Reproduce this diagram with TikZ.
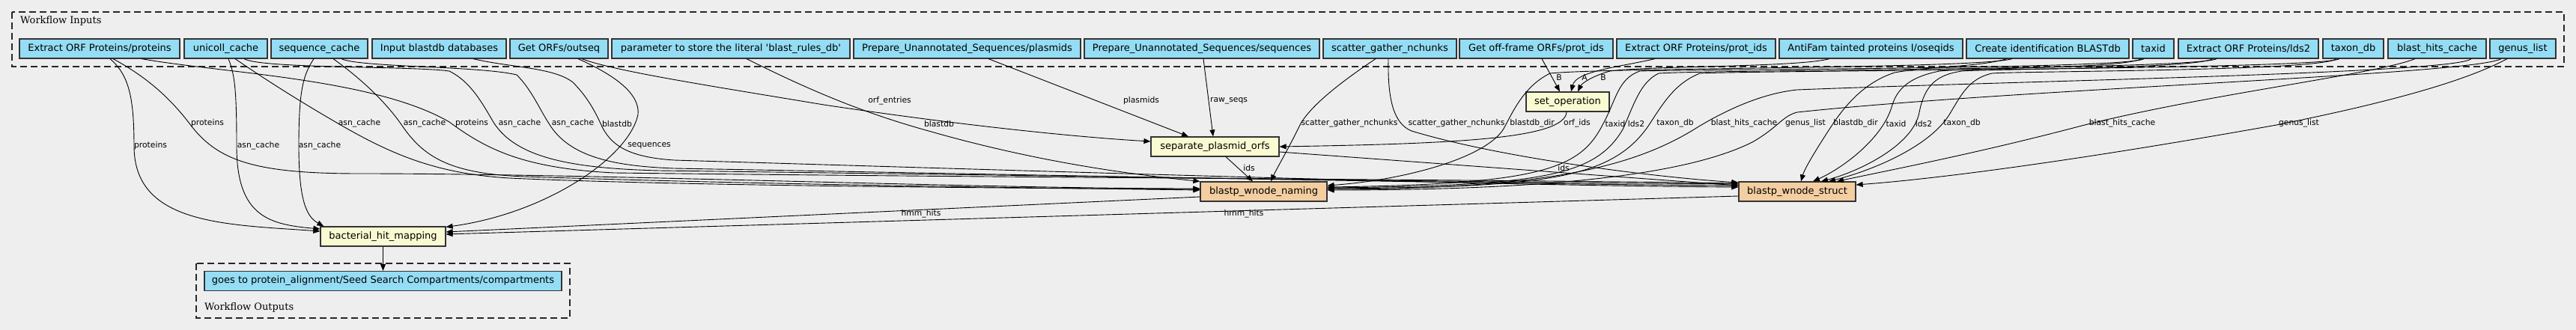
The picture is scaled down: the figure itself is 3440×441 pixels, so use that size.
\documentclass[tikz,border=0pt]{standalone}
\usepackage{fontspec}
\setmainfont{DejaVu Sans}
\newfontfamily\clusterfont{DejaVu Serif}
\usetikzlibrary{arrows.meta,positioning,calc}
\definecolor{pblue}{HTML}{94DDF4}
\definecolor{pstep}{HTML}{FAFAD2}
\definecolor{psub}{HTML}{F3CEA1}
\definecolor{pbg}{HTML}{EEEEEE}

\begin{document}
\begin{tikzpicture}[x=1pt,y=-1pt,
    every node/.style={inner sep=0pt},
    inp/.style={draw=black!80,line width=1.2pt,fill=pblue,minimum height=26pt,
                font=\fontsize{13}{15}\selectfont},
    stepn/.style={inp,fill=pstep},
    subwf/.style={inp,fill=psub},
    clus/.style={draw=black!85,line width=1.2pt,dash pattern=on 9pt off 5pt},
    edge/.style={draw=black,line width=0.9pt,-{Triangle[length=9pt,width=7pt]}},
    lbl/.style={font=\fontsize{10.75}{12}\selectfont}]
  \fill[pbg] (0,0) rectangle (3440,441);
  \useasboundingbox (0,0) rectangle (3440,441);

  % clusters
  \draw[clus] (16,16) rectangle (3424,89);
  \node[anchor=west,font=\clusterfont\fontsize{13}{15}\selectfont] (inlbl) at (27,28) {Workflow Inputs};
  \draw[clus] (262,352) rectangle (761,425);
  \node[anchor=west,font=\clusterfont\fontsize{13}{15}\selectfont] (outlbl) at (273,411) {Workflow Outputs};

  % workflow inputs
  \node[inp,minimum width=214] (eorfprot) at (133,65) {Extract ORF Proteins/proteins};
  \node[inp,minimum width=111] (unicoll) at (301.5,65) {unicoll\_cache};
  \node[inp,minimum width=129] (seqcache) at (426.5,65) {sequence\_cache};
  \node[inp,minimum width=179] (blastdbin) at (586.5,65) {Input blastdb databases};
  \node[inp,minimum width=131] (outseq) at (746.5,65) {Get ORFs/outseq};
  \node[inp,minimum width=318] (param) at (976,65) {parameter to store the literal \textquotesingle blast\_rules\_db\textquotesingle};
  \node[inp,minimum width=303] (plasmids) at (1291.5,65) {Prepare\_Unannotated\_Sequences/plasmids};
  \node[inp,minimum width=314] (sequences) at (1605,65) {Prepare\_Unannotated\_Sequences/sequences};
  \node[inp,minimum width=178] (nchunks) at (1856,65) {scatter\_gather\_nchunks};
  \node[inp,minimum width=205] (offframe) at (2051.5,65) {Get off-frame ORFs/prot\_ids};
  \node[inp,minimum width=212] (protids) at (2265,65) {Extract ORF Proteins/prot\_ids};
  \node[inp,minimum width=245] (antifam) at (2498.5,65) {AntiFam tainted proteins I/oseqids};
  \node[inp,minimum width=217] (createdb) at (2734.5,65) {Create identification BLASTdb};
  \node[inp,minimum width=55] (taxid) at (2875.5,65) {taxid};
  \node[inp,minimum width=187] (lds2) at (3002.5,65) {Extract ORF Proteins/lds2};
  \node[inp,minimum width=81] (taxondb) at (3142.5,65) {taxon\_db};
  \node[inp,minimum width=131] (bhcache) at (3254.5,65) {blast\_hits\_cache};
  \node[inp,minimum width=88] (genus) at (3369,65) {genus\_list};

  % steps
  \node[stepn,minimum width=111] (setop) at (2093.5,136) {set\_operation};
  \node[stepn,minimum width=171] (sep) at (1622.5,196) {separate\_plasmid\_orfs};
  \node[subwf,minimum width=169] (naming) at (1687.5,256) {blastp\_wnode\_naming};
  \node[subwf,minimum width=156] (struct) at (2400,256) {blastp\_wnode\_struct};
  \node[stepn,minimum width=167] (bhm) at (511.5,316) {bacterial\_hit\_mapping};
  \node[inp,minimum width=477] (outp) at (511.5,375.5) {goes to protein\_alignment/Seed Search Compartments/compartments};

  % into bacterial_hit_mapping
  \draw[edge] ([xshift=14pt]eorfprot.south) .. controls (172,100) and (179,130) .. (179,195)
    .. controls (179,300) and (300,300) .. ([yshift=7pt]bhm.west)
    node[lbl] (l1) at (201,195) {proteins};
  \draw[edge] ([xshift=3.5pt]unicoll.south) .. controls (314,100) and (316,125) .. (316,195)
    .. controls (316,290) and (360,300) .. ([yshift=10pt]bhm.west)
    node[lbl] (l2) at (345,195) {asn\_cache};
  \draw[edge] ([xshift=-7.5pt]seqcache.south) .. controls (405,100) and (399,120) .. (399,195)
    .. controls (399,270) and (410,290) .. ([xshift=5pt]bhm.north west)
    node[lbl] (l3) at (427,195) {asn\_cache};
  \draw[edge] ([xshift=25.5pt]outseq.south) .. controls (820,100) and (855,125) .. (852,153)
    .. controls (840,210) and (730,285) .. ([yshift=-1pt]bhm.north east)
    node[lbl] (l4) at (867,195) {sequences};
  \draw[edge] ([yshift=-7pt]naming.west) -- ([yshift=6pt]bhm.east)
    node[lbl] (l5) at (1230,286) {hmm\_hits};
  \draw[edge] ([yshift=-6pt]struct.west) -- ([yshift=3pt]bhm.east)
    node[lbl] (l6) at (1661,286) {hmm\_hits};
  \draw[edge] (bhm.south) -- (outp.north);

  % into blastp_wnode_naming, from the left
  \draw[edge] ([xshift=18pt]eorfprot.south) .. controls (200,105) and (230,135) .. (253,165)
    .. controls (290,215) and (340,232) .. (480,232)
    .. controls (800,232) and (1300,252) .. ([yshift=4pt]naming.west)
    node[lbl] (l7) at (277,165) {proteins};
  \draw[edge] ([xshift=12.5pt]unicoll.south) .. controls (360,110) and (400,135) .. (448,163)
    .. controls (520,205) and (580,232) .. (680,238)
    .. controls (900,248) and (1300,251) .. ([yshift=3pt]naming.west)
    node[lbl] (l8) at (480,165) {asn\_cache};
  \draw[edge] ([xshift=18.5pt]seqcache.south) .. controls (475,100) and (510,130) .. (535,165)
    .. controls (565,210) and (600,232) .. (700,236)
    .. controls (1000,246) and (1300,250) .. ([yshift=2pt]naming.west)
    node[lbl] (l9) at (567,165) {asn\_cache};
  \draw[edge] ([xshift=21pt]param.south) .. controls (1080,120) and (1150,150) .. (1240,175)
    .. controls (1380,215) and (1500,232) .. (naming.north west)
    node[lbl] (l10) at (1254,165) {blastdb};

  % into blastp_wnode_struct, from the left
  \draw[edge] ([xshift=56pt]eorfprot.south) .. controls (300,98) and (500,105) .. (600,163)
    .. controls (650,200) and (700,225) .. (820,231)
    .. controls (1400,238) and (2000,240) .. ([yshift=11pt]struct.west)
    node[lbl] (l11) at (630,165) {proteins};
  \draw[edge] ([xshift=24.5pt]unicoll.south) .. controls (350,92) and (550,88) .. (600,95)
    .. controls (630,110) and (645,140) .. (660,165)
    .. controls (690,210) and (760,225) .. (880,228)
    .. controls (1500,236) and (2000,244) .. ([yshift=10pt]struct.west)
    node[lbl] (l12) at (694,165) {asn\_cache};
  \draw[edge] ([xshift=29.5pt]seqcache.south) .. controls (480,90) and (640,88) .. (690,100)
    .. controls (710,120) and (720,145) .. (733,165)
    .. controls (760,210) and (820,222) .. (900,225)
    .. controls (1500,236) and (2000,246) .. ([yshift=8pt]struct.west)
    node[lbl] (l13) at (765,165) {asn\_cache};
  \draw[edge] ([xshift=45.5pt]blastdbin.south) .. controls (680,90) and (740,90) .. (765,110)
    .. controls (785,130) and (795,150) .. (802,165)
    .. controls (815,195) and (840,210) .. (900,214)
    .. controls (1500,232) and (2000,248) .. ([yshift=6pt]struct.west)
    node[lbl] (l14) at (824,165) {blastdb};
  \draw[edge] ([xshift=-2pt]nchunks.south) .. controls (1853,130) and (1860,165) .. (1885,175)
    .. controls (2000,210) and (2200,236) .. ([yshift=12pt]struct.west)
    node[lbl] (l15) at (1945,165) {scatter\_gather\_nchunks};
  \draw[edge] ([xshift=-19pt]nchunks.south) .. controls (1790,110) and (1752,140) .. (1737,165)
    .. controls (1720,200) and (1705,225) .. ([xshift=9.5pt]naming.north)
    node[lbl] (l16) at (1802,165) {scatter\_gather\_nchunks};

  % separate_plasmid_orfs
  \draw[edge] ([xshift=30.5pt]outseq.south) .. controls (820,95) and (950,115) .. (1100,140)
    .. controls (1300,170) and (1450,184) .. ([yshift=7pt]sep.west)
    node[lbl] (l17) at (1188,135) {orf\_entries};
  \draw[edge] ([xshift=28.5pt]plasmids.south) -- ([xshift=-35.5pt]sep.north)
    node[lbl] (l18) at (1524,135) {plasmids};
  \draw[edge] ([xshift=2pt]sequences.south) -- ([xshift=-2.5pt]sep.north)
    node[lbl] (l19) at (1641,135) {raw\_seqs};
  \draw[edge] ([xshift=-1.5pt]setop.south) .. controls (2090,185) and (1950,192) .. (sep.east)
    node[lbl] (l20) at (2106,165) {orf\_ids};
  \draw[edge] ([xshift=14.5pt]sep.south) -- ([xshift=-14.5pt]naming.north)
    node[lbl] (l21) at (1668,224) {ids};
  \draw[edge] ([yshift=-7pt]sep.east) -- ([yshift=8pt]struct.west)
    node[lbl] (l22) at (2088,224) {ids};

  % set_operation
  \draw[edge] ([xshift=7.5pt]offframe.south) -- ([xshift=-10.5pt]setop.north)
    node[lbl] (l23) at (2082,104) {B};
  \draw[edge] ([xshift=-55pt]protids.south) .. controls (2160,90) and (2105,95) .. ([xshift=4.5pt]setop.north)
    node[lbl] (l24) at (2116,104) {A};
  \draw[edge] ([xshift=-55.5pt]antifam.south) .. controls (2400,90) and (2200,88) .. (2150,95)
    .. controls (2125,102) and (2112,112) .. ([xshift=13.5pt]setop.north)
    node[lbl] (l25) at (2141,104) {B};

  % into blastp_wnode_naming, from the right
  \draw[edge] ([xshift=-47.5pt]createdb.south) .. controls (2640,92) and (2150,90) .. (2070,98)
    .. controls (2035,115) and (2020,150) .. (2008,172)
    .. controls (1985,210) and (1880,240) .. ([yshift=8pt]naming.east)
    node[lbl] (l26) at (2046,165) {blastdb\_dir};
  \draw[edge] ([xshift=-12.5pt]taxid.south) .. controls (2840,92) and (2300,92) .. (2190,95)
    .. controls (2160,105) and (2158,135) .. (2140,167)
    .. controls (2110,225) and (2060,246) .. ([yshift=6pt]naming.east)
    node[lbl] (l27) at (2157,165) {taxid};
  \draw[edge] ([xshift=-42.5pt]lds2.south) .. controls (2930,93) and (2300,93) .. (2215,98)
    .. controls (2190,110) and (2182,140) .. (2167,173)
    .. controls (2130,235) and (2060,248) .. ([yshift=5pt]naming.east)
    node[lbl] (l28) at (2185,165) {lds2};
  \draw[edge] ([xshift=-18.5pt]taxondb.south) .. controls (3100,93) and (2350,94) .. (2270,98)
    .. controls (2235,112) and (2220,140) .. (2200,170)
    .. controls (2150,240) and (2060,250) .. ([yshift=4pt]naming.east)
    node[lbl] (l29) at (2237,165) {taxon\_db};
  \draw[edge] ([xshift=45.5pt]bhcache.south) .. controls (3280,98) and (2700,108) .. (2400,120)
    .. controls (2350,125) and (2300,150) .. (2267,170)
    .. controls (2180,225) and (2060,252) .. ([yshift=3pt]naming.east)
    node[lbl] (l30) at (2329,165) {blast\_hits\_cache};
  \draw[edge] ([xshift=-29pt]genus.south) .. controls (3300,100) and (2700,118) .. (2400,150)
    .. controls (2380,155) and (2375,170) .. (2340,190)
    .. controls (2250,235) and (2060,254) .. ([yshift=2pt]naming.east)
    node[lbl] (l31) at (2411,165) {genus\_list};

  % into blastp_wnode_struct, from the right
  \draw[edge] ([xshift=-54.5pt]createdb.south) .. controls (2640,90) and (2580,88) .. (2530,97)
    .. controls (2490,110) and (2465,140) .. (2448,165)
    .. controls (2425,200) and (2410,225) .. ([xshift=5pt]struct.north)
    node[lbl] (l32) at (2478,165) {blastdb\_dir};
  \draw[edge] ([xshift=-15.5pt]taxid.south) .. controls (2830,92) and (2640,90) .. (2590,95)
    .. controls (2555,102) and (2535,115) .. (2527,140)
    .. controls (2515,185) and (2460,225) .. ([xshift=21pt]struct.north)
    node[lbl] (l33) at (2532,165) {taxid};
  \draw[edge] ([xshift=-47.5pt]lds2.south) .. controls (2930,92) and (2660,92) .. (2620,95)
    .. controls (2585,100) and (2570,115) .. (2563,150)
    .. controls (2555,195) and (2480,230) .. ([xshift=32pt]struct.north)
    node[lbl] (l34) at (2569,165) {lds2};
  \draw[edge] ([xshift=-22.5pt]taxondb.south) .. controls (3100,95) and (2700,95) .. (2660,98)
    .. controls (2630,105) and (2620,125) .. (2605,150)
    .. controls (2580,195) and (2500,228) .. ([xshift=42pt]struct.north)
    node[lbl] (l35) at (2620,165) {taxon\_db};
  \draw[edge] ([xshift=-29.5pt]bhcache.south) .. controls (3170,100) and (2950,125) .. (2780,168)
    .. controls (2640,205) and (2520,228) .. ([xshift=53pt]struct.north)
    node[lbl] (l36) at (2834,165) {blast\_hits\_cache};
  \draw[edge] ([xshift=-21pt]genus.south) .. controls (3280,115) and (3150,145) .. (3040,167)
    .. controls (2800,210) and (2600,238) .. ([yshift=9pt]struct.east)
    node[lbl] (l37) at (3070,165) {genus\_list};
\end{tikzpicture}
\end{document}
